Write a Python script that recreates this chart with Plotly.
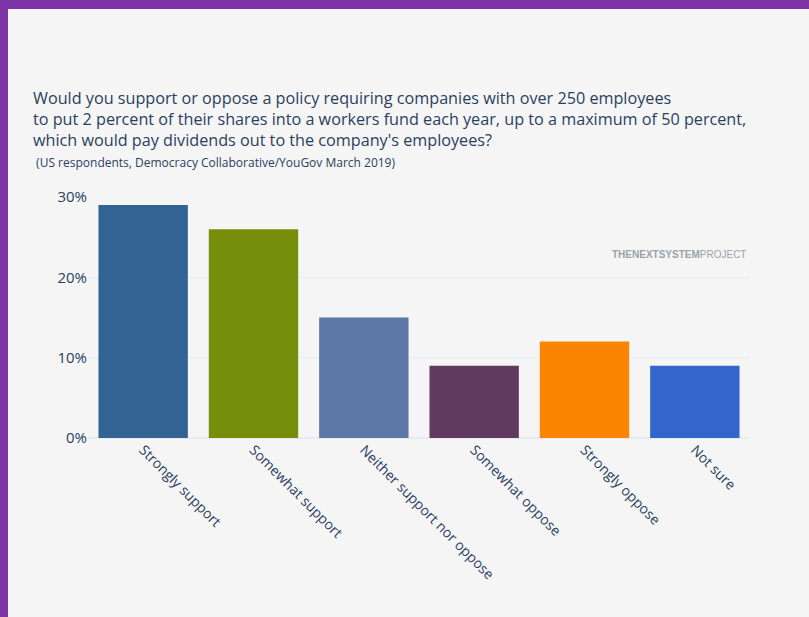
import plotly.graph_objects as go

categories = ["Strongly support", "Somewhat support", "Neither support nor oppose",
              "Somewhat oppose", "Strongly oppose", "Not sure"]
values = [0.29, 0.26, 0.15, 0.09, 0.12, 0.09]
colors = ["#336392", "#778e0a", "#5a77a5", "#613a62", "#fb8500", "#3366cc"]
tick_vals = [0, 0.1, 0.2, 0.3]
tick_text = ["0%", "10%", "20%", "30%"]

W, H = 809, 617
ml, mr, mt, mb = 88, 59, 197, 179
pw, ph = W - ml - mr, H - mt - mb

fig = go.Figure(go.Bar(x=categories, y=values, marker_color=colors, marker_line_width=0))

def px_x(p):
    return (p - ml) / pw

def px_y(p):
    return (H - mb - p) / ph

purple = "#7d35a8"
fig.add_shape(type="rect", xref="paper", yref="paper", x0=px_x(0), x1=px_x(W), y0=px_y(9), y1=px_y(0),
              fillcolor=purple, line_width=0, layer="above")
fig.add_shape(type="rect", xref="paper", yref="paper", x0=px_x(0), x1=px_x(8), y0=px_y(H), y1=px_y(0),
              fillcolor=purple, line_width=0, layer="above")

title = ("Would you support or oppose a policy requiring companies with over 250 employees<br>"
         "to put 2 percent of their shares into a workers fund each year, up to a maximum of 50 percent,<br>"
         "which would pay dividends out to the company's employees?<br>"
         "<span style='font-size:12px'> (US respondents, Democracy Collaborative/YouGov March 2019)</span>")

fig.add_annotation(text="<b>THE</b><b>NEXT</b><b>SYSTEM</b>PROJECT", xref="paper", yref="paper",
                   x=px_x(748), y=px_y(254), xanchor="right", yanchor="middle", showarrow=False,
                   font=dict(family="Liberation Sans Narrow, Arial Narrow, sans-serif", size=10, color="#9aa3a8"))

fig.update_layout(
    width=W, height=H,
    margin=dict(l=ml, r=mr, t=mt, b=mb),
    paper_bgcolor="#f5f5f5", plot_bgcolor="#f5f5f5",
    font=dict(family="Open Sans, sans-serif", color="#2a3f5f", size=14),
    title=dict(text=title, x=33 / W, xanchor="left", y=1 - 104 / H, yanchor="top",
               font=dict(size=16.2, color="#2a3f5f")),
    bargap=0.19,
    showlegend=False,
    xaxis=dict(tickangle=45, showgrid=False, ticks="", tickfont=dict(size=14)),
    yaxis=dict(range=[0, 0.30], tickvals=tick_vals, ticktext=tick_text, gridcolor="#e6eaf1",
               zeroline=True, zerolinecolor="#e6eaf1", zerolinewidth=2, tickfont=dict(size=15),
               ticks="", ticklen=0),
)

fig.write_html("out.html")
